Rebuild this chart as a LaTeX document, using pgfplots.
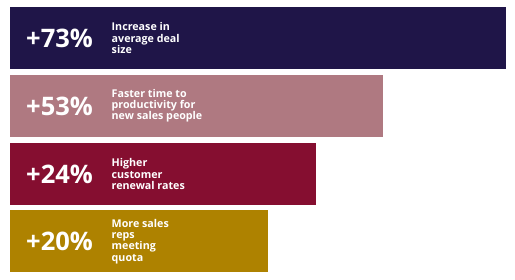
\documentclass[border=0pt]{standalone}
\usepackage{fontspec}
\setmainfont{Open Sans}
\usepackage{pgfplots}
\pgfplotsset{compat=1.18}
\definecolor{cNavy}{HTML}{1F1548}
\definecolor{cMauve}{HTML}{AF7981}
\definecolor{cCrimson}{HTML}{850E30}
\definecolor{cGold}{HTML}{AE8200}
\tikzset{
  big/.style={font=\fontsize{25.5}{30}\selectfont\bfseries, text=white, anchor=west, inner sep=0pt},
  small/.style={font=\fontsize{10.7}{11.2}\selectfont\bfseries, text=white, anchor=west, align=left, inner sep=0pt},
}
\begin{document}
\begin{tikzpicture}
\begin{axis}[
  hide axis, scale only axis,
  width=515pt, height=280pt,
  xmin=-10, xmax=505, ymin=0, ymax=280,
  y dir=reverse,
  xbar, bar width=62, bar shift=0pt,
  clip=false,
]
\path (rel axis cs:0,0) rectangle (rel axis cs:1,1);
\addplot[fill=cNavy, draw=none] coordinates {(496,38)};
\addplot[fill=cMauve, draw=none] coordinates {(373,106)};
\addplot[fill=cCrimson, draw=none] coordinates {(306,174)};
\addplot[fill=cGold, draw=none] coordinates {(258,241)};
\node[big] at (axis cs:16,38) {+73\%};
\node[big] at (axis cs:16,106) {+53\%};
\node[big] at (axis cs:16,174) {+24\%};
\node[big] at (axis cs:16,241) {+20\%};
\node[small] at (axis cs:101.5,38) {Increase in\\average deal\\size};
\node[small] at (axis cs:101.5,106) {Faster time to\\productivity for\\new sales people};
\node[small] at (axis cs:101.5,174) {Higher\\customer\\renewal rates};
\node[small] at (axis cs:101.5,241.5) {More sales\\reps\\meeting\\quota};
\end{axis}
\end{tikzpicture}
\end{document}
